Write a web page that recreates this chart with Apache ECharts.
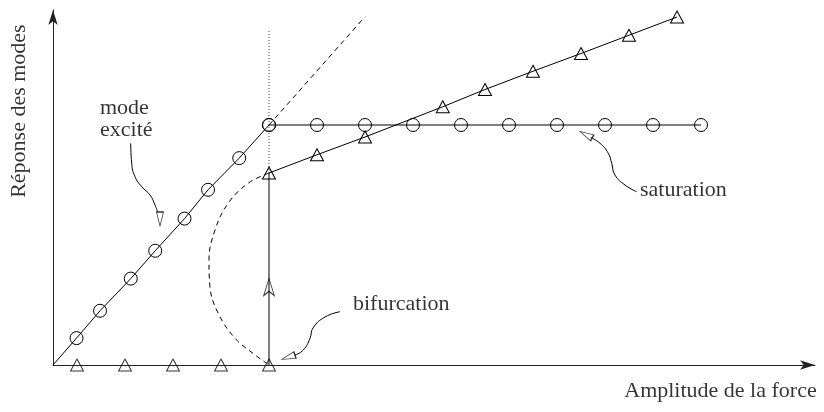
<!DOCTYPE html>
<html>
<head>
<meta charset="utf-8">
<script src="https://cdn.jsdelivr.net/npm/echarts@6/dist/echarts.min.js"></script>
<style>html,body{margin:0;padding:0;background:#fff}#c{width:824px;height:412px}</style>
</head>
<body>
<div id="c"></div>
<script>
// ---- data (units: amplitude of force, response) ----
const xMax = 15.875;
const yMax = 7.396;

// excited mode, linear growth (circles)
const excitedX = [0, 0.49, 0.98, 1.62, 2.13, 2.74, 3.23, 3.88, 4.5];
const excitedY = [0, 0.56, 1.13, 1.80, 2.38, 3.05, 3.65, 4.31, 5.0];
// excited mode, saturated (circles)
const satX = [4.5, 5.5, 6.5, 7.5, 8.5, 9.5, 10.5, 11.5, 12.5, 13.5];
const satY = [5.0, 5.0, 5.0, 5.0, 5.0, 5.0, 5.0, 5.0, 5.0, 5.0];
// other mode, zero branch (triangles)
const lowX = [0.5, 1.5, 2.5, 3.5, 4.5];
const lowY = [0, 0, 0, 0, 0];
// other mode, upper branch (triangles)
const upX = [4.5, 5.5, 6.5, 8.12, 9.0, 10.0, 11.0, 12.0, 13.0];
const upY = [4.0, 4.38, 4.75, 5.38, 5.74, 6.12, 6.49, 6.87, 7.25];
// jump at the bifurcation
const jumpX = [4.5, 4.5];
const jumpY = [0, 4.0];
const jumpArrowX = [4.5];
const jumpArrowY = [1.8];
// dashed continuation of the linear growth
const extX = [4.5, 6.5];
const extY = [5.0, 7.256];
// dotted threshold line
const dotX = [4.5, 4.5];
const dotY = [4.0, 7.0];
// unstable branch (dashed)
const unstX = [4.5, 4.07, 3.65, 3.375, 3.25, 3.27, 3.44, 3.79, 4.21, 4.5];
const unstY = [4.0, 3.79, 3.37, 2.81, 2.19, 1.63, 1.08, 0.56, 0.21, 0.0];

// annotation leaders
const leadModeX = [1.619, 1.640, 1.708, 1.848, 2.021, 2.125, 2.18];
const leadModeY = [4.619, 4.202, 3.923, 3.715, 3.542, 3.333, 3.19];
const leadSatX = [11.20, 11.396, 11.569, 11.64, 11.708, 11.917, 12.16];
const leadSatY = [4.74, 4.619, 4.41, 4.20, 3.958, 3.75, 3.61];
const leadBifX = [5.979, 5.667, 5.417, 5.354, 5.215, 5.04];
const leadBifY = [1.110, 1.0, 0.771, 0.556, 0.3125, 0.208];
const headX = [2.229, 11.104, 4.902];
const headY = [3.042, 4.80, 0.1625];
const headRot = [180, 62, 108];

// texts
const texts = ['mode\nexcité', 'saturation', 'bifurcation', 'Amplitude de la force', 'Réponse des modes'];
const textX = [0.979, 12.23, 6.25, 15.91, -0.708];
const textY = [5.125, 3.646, 1.256, -0.542, 5.29];
const textAlign = ['left', 'left', 'left', 'right', 'center'];
const textRot = [0, 0, 0, 0, 90];

// ---- chart ----
const zip = (a, b) => a.map((v, i) => [v, b[i]]);
const FONT = 'Liberation Serif';
const hollow = {color: 'rgba(0,0,0,0)', borderColor: '#000', borderWidth: 1};
const thin = {color: '#000', width: 1};

const chart = echarts.init(document.getElementById('c'), null, {renderer: 'canvas'});
const option = {
  animation: false,
  backgroundColor: '#fff',
  grid: {left: 53, right: 9, top: 10, bottom: 47},
  xAxis: {
    type: 'value', min: 0, max: xMax,
    axisLine: {show: true, onZero: false, symbol: ['none', 'arrow'], symbolSize: [7, 15], lineStyle: {color: '#222', width: 1}},
    axisTick: {show: false}, axisLabel: {show: false}, splitLine: {show: false}
  },
  yAxis: {
    type: 'value', min: 0, max: yMax,
    axisLine: {show: true, onZero: false, symbol: ['none', 'arrow'], symbolSize: [7, 15], lineStyle: {color: '#222', width: 1}},
    axisTick: {show: false}, axisLabel: {show: false}, splitLine: {show: false}
  },
  series: [
    {type: 'line', name: 'threshold', data: zip(dotX, dotY), showSymbol: false, clip: false,
     lineStyle: {color: '#444', width: 1, type: [1, 2]}},
    {type: 'line', name: 'extension', data: zip(extX, extY), showSymbol: false, clip: false,
     lineStyle: {color: '#000', width: 1, type: [5, 4]}},
    {type: 'line', name: 'unstable', data: zip(unstX, unstY), showSymbol: false, smooth: 0.4, clip: false,
     lineStyle: {color: '#000', width: 1, type: [5, 4]}},
    {type: 'line', name: 'jump', data: zip(jumpX, jumpY), showSymbol: false, clip: false, lineStyle: thin},
    {type: 'line', name: 'mode excité', clip: false,
     data: zip(excitedX, excitedY).map((p, i) => i === 0 ? {value: p, symbol: 'none'} : p),
     symbol: 'circle', symbolSize: 13, itemStyle: hollow, lineStyle: thin},
    {type: 'line', name: 'saturation', clip: false, data: zip(satX, satY),
     symbol: 'circle', symbolSize: 13, itemStyle: hollow, lineStyle: thin},
    {type: 'line', name: 'upper', clip: false, data: zip(upX, upY),
     symbol: 'triangle', symbolSize: [13, 12], itemStyle: hollow, lineStyle: thin},
    {type: 'scatter', name: 'lower', clip: false, data: zip(lowX, lowY),
     symbol: 'triangle', symbolSize: [13, 12], itemStyle: hollow},
    {type: 'scatter', name: 'jumpArrow', clip: false, data: zip(jumpArrowX, jumpArrowY),
     symbol: 'arrow', symbolSize: [8, 17], itemStyle: {color: '#fff', borderColor: '#000', borderWidth: 1}},
    {type: 'line', name: 'leadMode', data: zip(leadModeX, leadModeY), showSymbol: false, smooth: 0.5, clip: false, lineStyle: thin},
    {type: 'line', name: 'leadSat', data: zip(leadSatX, leadSatY), showSymbol: false, smooth: 0.5, clip: false, lineStyle: thin},
    {type: 'line', name: 'leadBif', data: zip(leadBifX, leadBifY), showSymbol: false, smooth: 0.5, clip: false, lineStyle: thin},
    {type: 'scatter', name: 'heads', clip: false,
     data: headX.map((x, i) => ({value: [x, headY[i]], symbolRotate: headRot[i]})),
     symbol: 'triangle', symbolSize: [7, 14], itemStyle: {color: '#fff', borderColor: '#000', borderWidth: 1}},
    {type: 'scatter', name: 'texts', clip: false, symbolSize: 0, silent: true,
     data: texts.map((t, i) => ({
       value: [textX[i], textY[i]],
       label: {show: true, position: 'inside', formatter: t, align: textAlign[i], verticalAlign: 'middle',
               rotate: textRot[i], fontFamily: FONT, fontSize: 22, lineHeight: 22, color: '#000'}
     }))}
  ]
};
chart.setOption(option);
</script>
</body>
</html>
